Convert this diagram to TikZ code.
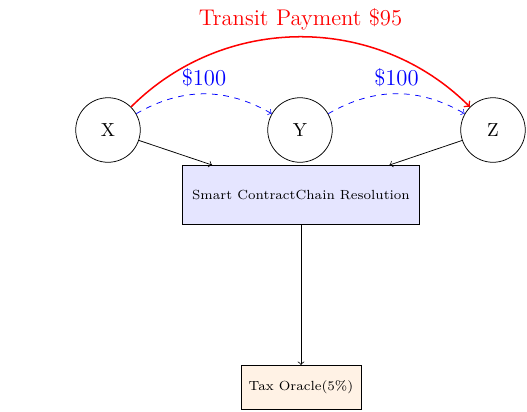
\documentclass[tikz,border=0pt]{standalone}
\begin{document}
\begin{tikzpicture}[x=0.529pt, y=-0.529pt,
  party/.style={circle, draw, minimum size=1.2cm, inner sep=0pt},
  chainbox/.style={draw, fill=blue!10, font=\scriptsize, minimum width=125.5pt, minimum height=31.3pt, inner sep=2pt},
  oraclebox/.style={draw, fill=orange!10, font=\scriptsize, minimum width=63.6pt, minimum height=23.4pt, inner sep=2pt},
  pay/.style={->, blue, dashed},
  transit/.style={->, red, thick},
  flow/.style={->}]
  \useasboundingbox (0,0) rectangle (527,412);

  % parties
  \node[party] (X) at (108,130) {X};
  \node[party] (Y) at (300,130) {Y};
  \node[party] (Z) at (493,130) {Z};

  % processing boxes
  \node[chainbox] (chain) at (301,195) {Smart ContractChain Resolution};
  \node[oraclebox] (tax) at (301,387.5) {Tax Oracle(5\%)};

  % payments between parties
  \draw[pay] (X) to[bend left=30] node[above] {\large\$100} (Y);
  \draw[pay] (Y) to[bend left=30] node[above] {\large\$100} (Z);
  \draw[transit] (X) to[bend left=45] node[above] {\large Transit Payment \$95} (Z);

  % settlement flow
  \draw[flow] (X) -- (chain);
  \draw[flow] (Z) -- (chain);
  \draw[flow] (chain) -- (tax);
\end{tikzpicture}
\end{document}
